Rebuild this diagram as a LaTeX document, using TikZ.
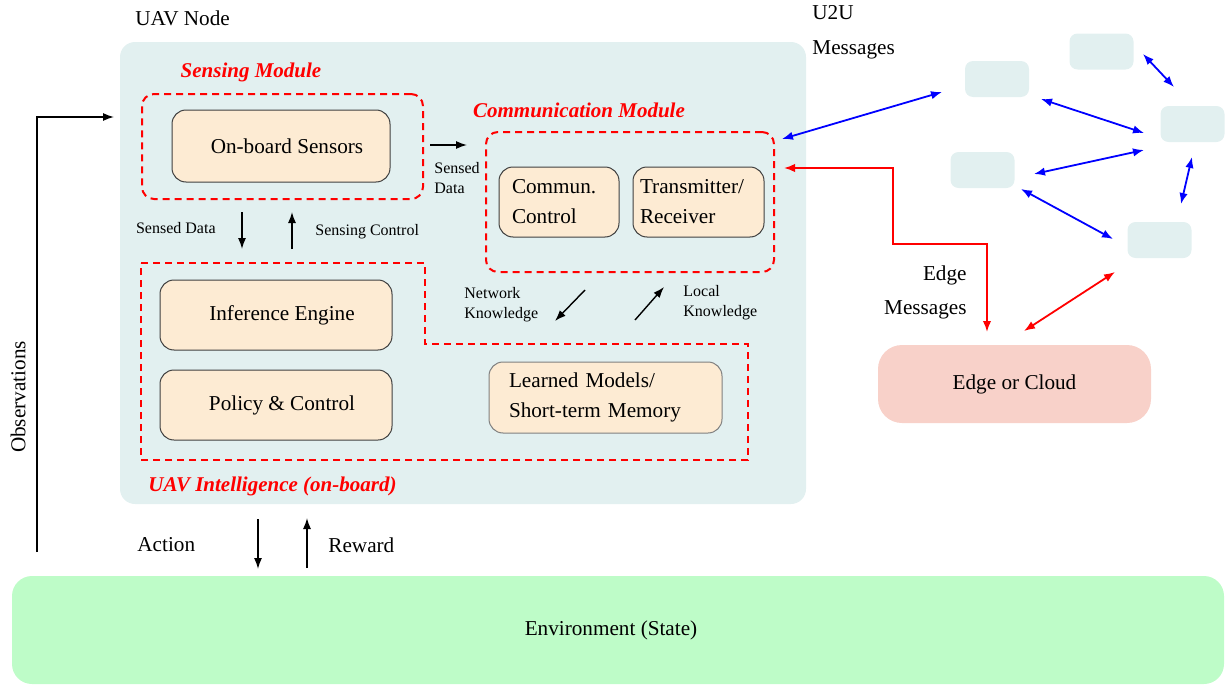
\documentclass[tikz,border=0pt]{standalone}
\usepackage{fontspec}
\setmainfont{Liberation Serif}
\usetikzlibrary{arrows.meta}
\definecolor{uavbg}{HTML}{E2F0F0}
\definecolor{peach}{HTML}{FDEBD3}
\definecolor{cloudbg}{HTML}{F8D1C9}
\definecolor{envbg}{HTML}{BEFCC8}
\begin{document}
\begin{tikzpicture}[x=0.5pt,y=-0.5pt]
    \tikzstyle{every node}=[font=\fontsize{10.6}{15}\selectfont, text=black, inner sep=0pt]
    \tikzstyle{small}=[font=\fontsize{8}{10}\selectfont]
    \tikzstyle{block}=[draw=black!75, fill=peach, rounded corners=7pt, line width=0.5pt]
    \tikzstyle{module}=[draw=red, dash pattern=on 3.5pt off 2.5pt, line width=1pt, rounded corners=6pt]
    \tikzstyle{title}=[text=red, font=\fontsize{10.5}{12}\selectfont\bfseries\itshape]
    \tikzstyle{peer}=[fill=uavbg, rounded corners=4pt, minimum width=32pt, minimum height=18pt]
    \tikzstyle{arr}=[-{Latex[length=5.5pt,width=4pt]}, line width=0.7pt]
    \tikzstyle{u2u}=[{Latex[length=5.5pt,width=4.2pt]}-{Latex[length=5.5pt,width=4.2pt]}, blue, line width=0.9pt]
    \tikzstyle{edge}=[{Latex[length=5.5pt,width=4.2pt]}-{Latex[length=5.5pt,width=4.2pt]}, red, line width=0.9pt]

    \useasboundingbox (0,0) rectangle (1228,685);

    % UAV node
    \node[fill=uavbg, rounded corners=7.5pt, minimum width=343pt, minimum height=231pt] (uav) at (463,273) {};
    \node[anchor=west] (uavlbl) at (135,18) {UAV Node};

    % sensing
    \node[module, minimum width=140.5pt, minimum height=52.5pt] (sens) at (282.5,146.5) {};
    \node[title] (senslbl) at (251,72) {Sensing Module};
    \node[block, minimum width=109pt, minimum height=36pt] (sensors) at (281,146) {\hspace*{6pt}On-board Sensors};

    % communication
    \node[module, minimum width=144pt, minimum height=70pt] (comm) at (630,202) {};
    \node[title] (commlbl) at (579,110) {Communication Module};
    \node[block, minimum height=35pt, inner xsep=6.5pt, text width=47pt, align=left] (ctrl) at (559,202) {Commun.\\Control};
    \node[block, minimum height=35pt, inner xsep=3.5pt, text width=58.5pt, align=left] (trx) at (698.5,202) {Transmitter/\\Receiver};

    % intelligence
    \draw[module, rounded corners=0pt] (141,263) -- (425,263) -- (425,344) -- (748,344) -- (748,460) -- (141,460) -- cycle;
    \node[title, anchor=west] (intlbl) at (148,486) {UAV Intelligence (on-board)};
    \node[block, minimum width=116pt, minimum height=35pt] (infer) at (276,315) {\hspace*{6pt}Inference Engine};
    \node[block, minimum width=116pt, minimum height=35pt] (policy) at (276,405) {\hspace*{6pt}Policy \& Control};
    \node[block, draw=black!50, minimum height=35.5pt, inner xsep=10pt, text width=96.5pt, align=left] (models) at (605.5,397.5) {Learned Models/\\Short-term Memory};

    % inner arrows
    \coordinate (sd1) at (430,145);
    \coordinate (sd2) at (467,145);
    \draw[arr] (sd1) -- (sd2);
    \node[small, anchor=west, align=left] (sdlbl) at (434,178) {Sensed\\Data};

    \coordinate (down1) at (242,212);
    \coordinate (down2) at (242,249);
    \coordinate (up1) at (292,249);
    \coordinate (up2) at (292,212);
    \draw[arr] (down1) -- (down2);
    \draw[arr] (up1) -- (up2);
    \node[small, anchor=east] (downlbl) at (216,228) {Sensed Data};
    \node[small, anchor=west] (uplbl) at (315,232) {Sensing Control};

    \coordinate (nk1) at (585,290);
    \coordinate (nk2) at (555,321);
    \coordinate (lk1) at (635,320);
    \coordinate (lk2) at (664,287);
    \draw[arr] (nk1) -- (nk2);
    \draw[arr] (lk1) -- (lk2);
    \node[small, anchor=west, align=left] (nklbl) at (464,305) {Network\\Knowledge};
    \node[small, anchor=west, align=left] (lklbl) at (683,303) {Local\\Knowledge};

    % environment loop
    \node[fill=envbg, rounded corners=10pt, minimum width=606pt, minimum height=54pt] (env) at (618,630) {\hspace*{-7pt}Environment (State)};
    \coordinate (act1) at (258,519);
    \coordinate (act2) at (258,569);
    \coordinate (rew1) at (307,568);
    \coordinate (rew2) at (307,518);
    \draw[arr] (act1) -- (act2);
    \draw[arr] (rew1) -- (rew2);
    \node[anchor=west] (actlbl) at (137,545) {Action};
    \node[anchor=west] (rewlbl) at (328,545) {Reward};

    \coordinate (obs1) at (37,552);
    \coordinate (obs2) at (114,117);
    \draw[arr] (obs1) |- (obs2);
    \node[rotate=90] (obslbl) at (18,397) {Observations};

    % other UAVs
    \node[peer] (p1) at (997,79) {};
    \node[peer] (p2) at (1101.5,51.5) {};
    \node[peer] (p3) at (1192.5,124) {};
    \node[peer] (p4) at (982.5,170) {};
    \node[peer] (p5) at (1159.5,240) {};
    \node[anchor=west, align=left, font=\fontsize{10.6}{17.5}\selectfont] (u2ulbl) at (812,32) {U2U\\Messages};

    \coordinate (u0) at (782,139);
    \coordinate (u1) at (942,92);
    \coordinate (u2) at (1041,99);
    \coordinate (u3) at (1144,133);
    \coordinate (u4) at (1143,54);
    \coordinate (u5) at (1174,87);
    \coordinate (u6) at (1034,174);
    \coordinate (u7) at (1144,150);
    \coordinate (u8) at (1192,157);
    \coordinate (u9) at (1181,204);
    \coordinate (u10) at (1021,189);
    \coordinate (u11) at (1113,239);
    \draw[u2u] (u0) -- (u1);
    \draw[u2u] (u2) -- (u3);
    \draw[u2u] (u4) -- (u5);
    \draw[u2u] (u6) -- (u7);
    \draw[u2u] (u8) -- (u9);
    \draw[u2u] (u10) -- (u11);

    % edge
    \node[fill=cloudbg, rounded corners=12pt, minimum width=136.5pt, minimum height=39pt] (cloud) at (1014.5,384) {Edge or Cloud};
    \node[anchor=east, align=right, font=\fontsize{10.6}{17}\selectfont] (edgelbl) at (967,292) {Edge\\Messages};
    \coordinate (e0) at (784,168);
    \coordinate (e1) at (987,332);
    \coordinate (e2) at (1024,331);
    \coordinate (e3) at (1115,272);
    \draw[edge] (e0) -- (893,168) -- (893,244) -- (987,244) -- (e1);
    \draw[edge] (e2) -- (e3);
\end{tikzpicture}
\end{document}
